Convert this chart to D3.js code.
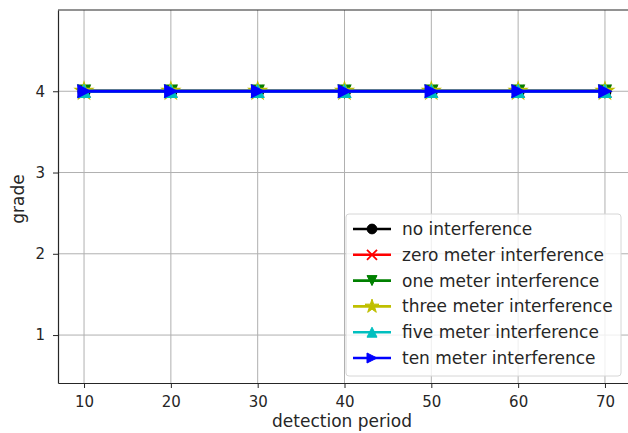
<!DOCTYPE html>
<html>
<head>
<meta charset="utf-8">
<script src="https://cdn.jsdelivr.net/npm/d3@7"></script>
<style>
  body { margin: 0; background: #fff; }
  text { font-family: "DejaVu Sans", sans-serif; fill: #262626; }
</style>
</head>
<body>
<div id="chart"></div>
<script>
const periods = [10, 20, 30, 40, 50, 60, 70];
const seriesNames = ['no interference', 'zero meter interference', 'one meter interference',
  'three meter interference', 'five meter interference', 'ten meter interference'];
const noInterference    = [4, 4, 4, 4, 4, 4, 4];
const zeroMeter         = [4, 4, 4, 4, 4, 4, 4];
const oneMeter          = [4, 4, 4, 4, 4, 4, 4];
const threeMeter        = [4, 4, 4, 4, 4, 4, 4];
const fiveMeter         = [4, 4, 4, 4, 4, 4, 4];
const tenMeter          = [4, 4, 4, 4, 4, 4, 4];
const xTicks = [10, 20, 30, 40, 50, 60, 70];
const yTicks = [1, 2, 3, 4];

const seriesValues = [noInterference, zeroMeter, oneMeter, threeMeter, fiveMeter, tenMeter];
const colors = ['#000000', '#ff0000', '#008000', '#bfbf00', '#00bfbf', '#0000ff'];
const markers = ['circle', 'x', 'tridown', 'star', 'triup', 'triright'];

const width = 628, height = 433;
const margin = {left: 58, top: 10, right: -3, bottom: 50};

const svg = d3.select('#chart').append('svg')
  .attr('width', width)
  .attr('height', height);

const x = d3.scaleLinear().domain([7, 73]).range([margin.left, width - margin.right]);
const y = d3.scaleLinear().domain([0.41, 5.0]).range([height - margin.bottom, margin.top]);

// grid
svg.append('g').selectAll('line').data(xTicks).enter().append('line')
  .attr('x1', d => x(d)).attr('x2', d => x(d))
  .attr('y1', y.range()[0]).attr('y2', y.range()[1])
  .attr('stroke', '#b0b0b0').attr('stroke-width', 1);
svg.append('g').selectAll('line').data(yTicks).enter().append('line')
  .attr('x1', x.range()[0]).attr('x2', x.range()[1])
  .attr('y1', d => y(d)).attr('y2', d => y(d))
  .attr('stroke', '#b0b0b0').attr('stroke-width', 1);

// axes
const xAxis = svg.append('g')
  .attr('transform', 'translate(0,' + y.range()[0] + ')')
  .call(d3.axisBottom(x).tickValues(xTicks).tickFormat(d3.format('d'))
    .tickSize(5).tickSizeOuter(0).tickPadding(8));
const yAxis = svg.append('g')
  .attr('transform', 'translate(' + margin.left + ',0)')
  .call(d3.axisLeft(y).tickValues(yTicks).tickFormat(d3.format('d'))
    .tickSize(5).tickSizeOuter(0).tickPadding(8));
[xAxis, yAxis].forEach(a => {
  a.selectAll('text').attr('font-size', 15).attr('fill', '#262626');
  a.selectAll('line').attr('stroke', '#262626');
  a.select('.domain').attr('stroke', '#262626').attr('stroke-width', 1.2);
});
// top border
svg.append('line')
  .attr('x1', x.range()[0]).attr('x2', x.range()[1])
  .attr('y1', y.range()[1]).attr('y2', y.range()[1])
  .attr('stroke', '#262626').attr('stroke-width', 1.2);

function markerPath(kind, s) {
  const h = s / 2;
  switch (kind) {
    case 'circle': return d3.symbol(d3.symbolCircle, s * s * 0.75)();
    case 'x': return `M${-h},${-h}L${h},${h}M${-h},${h}L${h},${-h}`;
    case 'tridown': return `M${-h},${-h}L${h},${-h}L0,${h}Z`;
    case 'triup': return `M${-h},${h}L${h},${h}L0,${-h}Z`;
    case 'triright': return `M${-h},${-h}L${h},0L${-h},${h}Z`;
    case 'star': return d3.symbol(d3.symbolStar, s * s * 0.6)();
  }
}

const line = d3.line().x((d, i) => x(periods[i])).y(d => y(d));

seriesValues.forEach((vals, k) => {
  const g = svg.append('g');
  g.append('path').datum(vals)
    .attr('d', line)
    .attr('fill', 'none')
    .attr('stroke', colors[k])
    .attr('stroke-width', 3);
  g.selectAll('path.m').data(vals).enter().append('path')
    .attr('class', 'm')
    .attr('transform', (d, i) => 'translate(' + x(periods[i]) + ',' + y(d) + ')')
    .attr('d', markerPath(markers[k], 12))
    .attr('fill', colors[k])
    .attr('stroke', colors[k])
    .attr('stroke-width', markers[k] === 'x' ? 2 : 1.5);
});

// labels
svg.append('text')
  .attr('x', 342).attr('y', 427)
  .attr('text-anchor', 'middle').attr('font-size', 17)
  .text('detection period');
svg.append('text')
  .attr('transform', 'translate(24,199) rotate(-90)')
  .attr('text-anchor', 'middle').attr('font-size', 17)
  .text('grade');

// legend
const lg = svg.append('g').attr('transform', 'translate(346,214)');
lg.append('rect')
  .attr('width', 275).attr('height', 162).attr('rx', 3)
  .attr('fill', '#ffffff').attr('fill-opacity', 0.8)
  .attr('stroke', '#d6d6d6');
seriesNames.forEach((name, k) => {
  const yy = 15 + k * 25.8;
  lg.append('line').attr('x1', 7).attr('x2', 45).attr('y1', yy).attr('y2', yy)
    .attr('stroke', colors[k]).attr('stroke-width', 2.6);
  lg.append('path').attr('transform', 'translate(26,' + yy + ')')
    .attr('d', markerPath(markers[k], 10))
    .attr('fill', colors[k]).attr('stroke', colors[k])
    .attr('stroke-width', markers[k] === 'x' ? 1.8 : 1);
  lg.append('text').attr('x', 56).attr('y', yy + 6)
    .attr('font-size', 17).text(name);
});
</script>
</body>
</html>
